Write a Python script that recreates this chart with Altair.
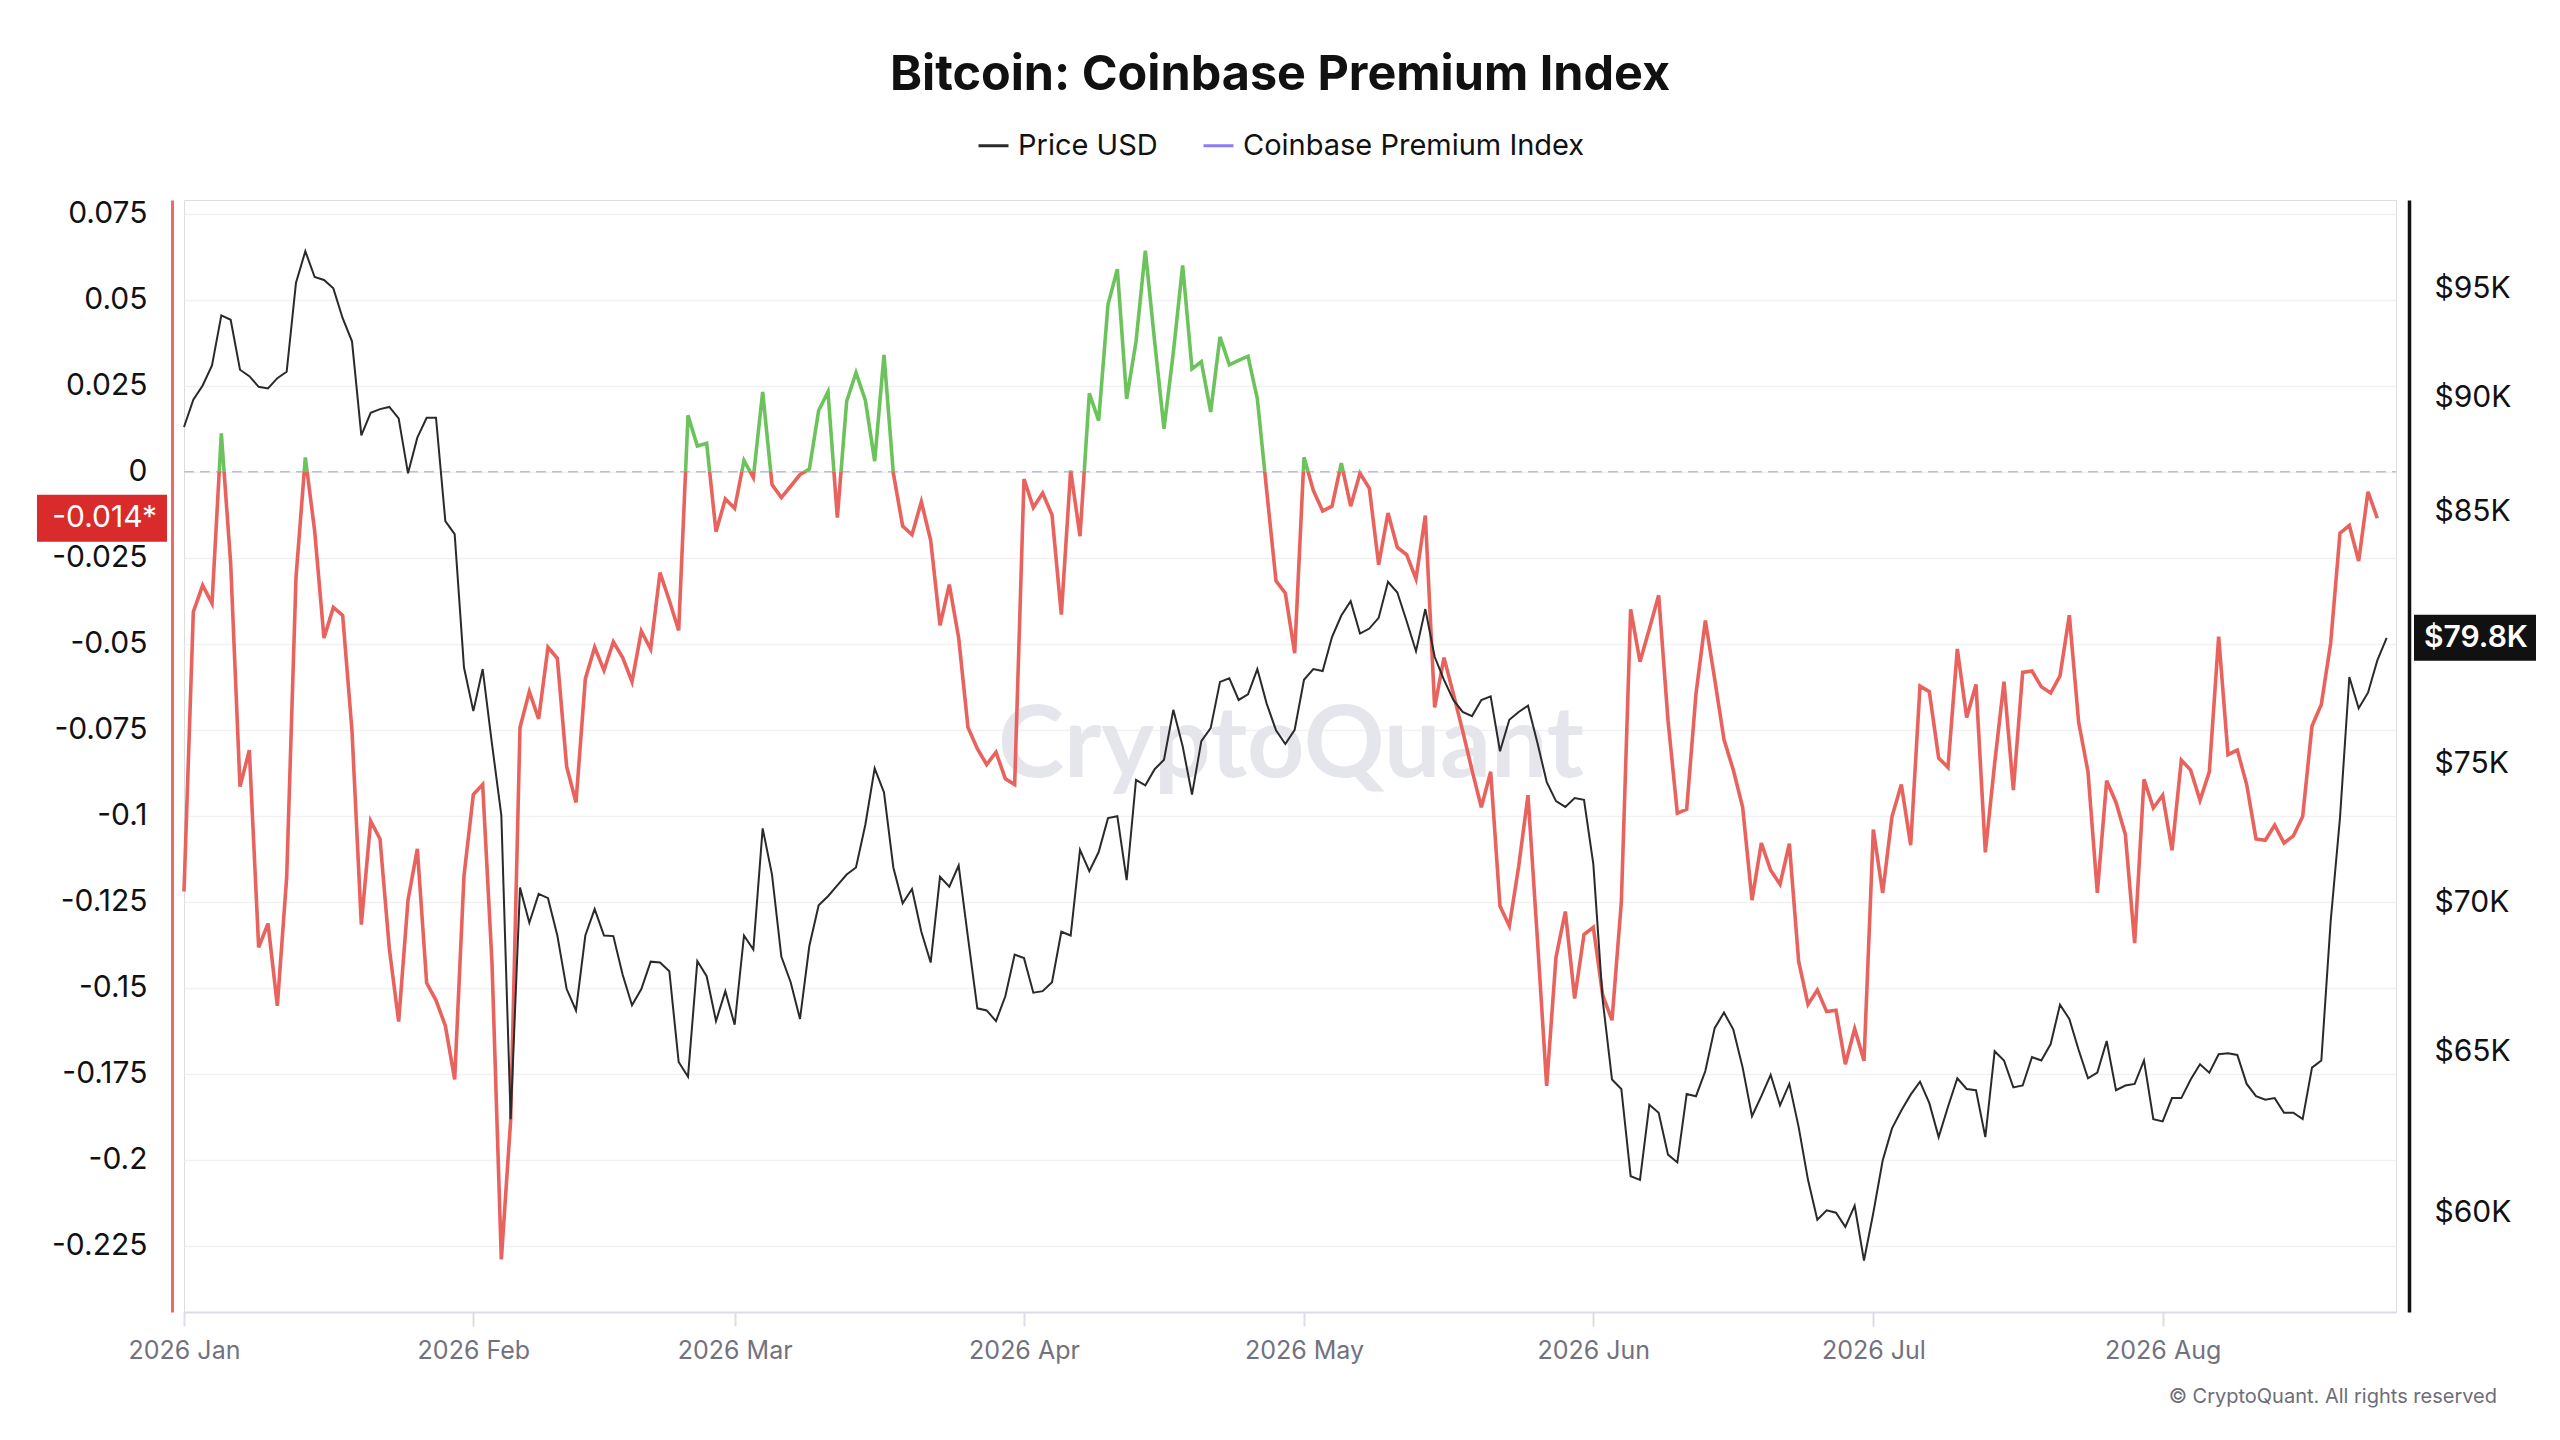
import altair as alt
import pandas as pd

# ---------------- data ----------------
dates = pd.date_range("2026-01-01", periods=237, freq="D").strftime("%Y-%m-%d").tolist()

price_usd = [
    88670, 89880, 90520, 91430, 93730, 93530, 91230, 90940, 90460, 90390,
    90850, 91140, 95270, 96770, 95540, 95400, 95000, 93600, 92530, 88300,
    89300, 89460, 89560, 89050, 86650, 88200, 89080, 89080, 84610, 84070,
    78670, 76980, 78610, 75730, 73090, 62840, 70510, 69290, 70290, 70140,
    68850, 67040, 66330, 68850, 69760, 68850, 68830, 67520, 66500, 67040,
    67960, 67930, 67640, 64650, 64180, 67980, 67470, 65980, 66970, 65860,
    68850, 68370, 72620, 70970, 68130, 67270, 66050, 68490, 69890, 70210,
    70590, 70970, 71220, 72750, 74820, 73930, 71220, 69960, 70460, 68980,
    67930, 70890, 70540, 71290, 68780, 66400, 66330, 65980, 66800, 68200,
    68080, 66920, 66970, 67270, 68980, 68850, 71850, 71090, 71770, 72990,
    73060, 70770, 74390, 74190, 74790, 75140, 77030, 75650, 73850, 75840,
    76330, 78110, 78250, 77410, 77630, 78610, 77270, 76250, 75730, 76270,
    78190, 78610, 78530, 79870, 80730, 81310, 80010, 80210, 80640, 82100,
    81660, 80500, 79310, 80990, 79090, 78190, 77410, 76950, 76790, 77410,
    77550, 75460, 76650, 76950, 77190, 75790, 74320, 73610, 73400, 73720,
    73660, 71340, 66680, 64090, 63790, 61080, 60970, 63290, 63040, 61740,
    61500, 63630, 63560, 64360, 65750, 66260, 65700, 64470, 62930, 63560,
    64240, 63270, 63950, 62590, 60970, 59770, 60050, 59980, 59560, 60190,
    58570, 59980, 61560, 62550, 63110, 63610, 64020, 63340, 62280, 63230,
    64130, 63790, 63750, 62280, 65000, 64700, 63840, 63900, 64810, 64700,
    65230, 66520, 66050, 65040, 64130, 64310, 65330, 63750, 63900, 63950,
    64700, 62840, 62770, 63500, 63500, 64090, 64580, 64310, 64900, 64930,
    64880, 63950, 63560, 63450, 63500, 63040, 63040, 62840, 64470, 64700,
    69340, 73010, 78300, 77090, 77690, 78950, 79840,
]

premium_index = [
    -0.1220, -0.0407, -0.0330, -0.0382, 0.0112, -0.0266, -0.0915, -0.0809, -0.1382, -0.1313,
    -0.1552, -0.1179, -0.0307, 0.0042, -0.0172, -0.0483, -0.0394, -0.0417, -0.0753, -0.1316,
    -0.1015, -0.1067, -0.1386, -0.1598, -0.1245, -0.1096, -0.1486, -0.1536, -0.1610, -0.1766,
    -0.1174, -0.0938, -0.0909, -0.1428, -0.2289, -0.1884, -0.0743, -0.0639, -0.0718, -0.0510,
    -0.0542, -0.0857, -0.0961, -0.0602, -0.0510, -0.0577, -0.0494, -0.0540, -0.0610, -0.0463,
    -0.0515, -0.0293, -0.0374, -0.0461, 0.0164, 0.0075, 0.0083, -0.0174, -0.0079, -0.0106,
    0.0033, -0.0017, 0.0232, -0.0037, -0.0075, -0.0042, -0.0008, 0.0008, 0.0178, 0.0232,
    -0.0133, 0.0205, 0.0288, 0.0208, 0.0031, 0.0340, -0.0004, -0.0158, -0.0183, -0.0087,
    -0.0199, -0.0446, -0.0328, -0.0483, -0.0743, -0.0805, -0.0851, -0.0815, -0.0892, -0.0909,
    -0.0021, -0.0104, -0.0062, -0.0125, -0.0415, 0.0004, -0.0187, 0.0228, 0.0149, 0.0486,
    0.0589, 0.0212, 0.0378, 0.0643, 0.0378, 0.0125, 0.0347, 0.0600, 0.0299, 0.0320,
    0.0174, 0.0392, 0.0311, 0.0324, 0.0336, 0.0212, -0.0054, -0.0317, -0.0353, -0.0527,
    0.0042, -0.0054, -0.0114, -0.0100, 0.0025, -0.0100, -0.0004, -0.0048, -0.0270, -0.0120,
    -0.0220, -0.0241, -0.0311, -0.0127, -0.0685, -0.0540, -0.0645, -0.0753, -0.0867, -0.0975,
    -0.0872, -0.1262, -0.1320, -0.1147, -0.0940, -0.1355, -0.1785, -0.1411, -0.1278, -0.1531,
    -0.1345, -0.1324, -0.1521, -0.1594, -0.1251, -0.0400, -0.0552, -0.0457, -0.0359, -0.0722,
    -0.0992, -0.0981, -0.0645, -0.0432, -0.0602, -0.0778, -0.0867, -0.0975, -0.1245, -0.1079,
    -0.1158, -0.1199, -0.1081, -0.1423, -0.1548, -0.1506, -0.1569, -0.1565, -0.1722, -0.1619,
    -0.1712, -0.1040, -0.1224, -0.1002, -0.0909, -0.1085, -0.0623, -0.0639, -0.0832, -0.0859,
    -0.0515, -0.0714, -0.0618, -0.1106, -0.0847, -0.0610, -0.0925, -0.0583, -0.0579, -0.0625,
    -0.0643, -0.0593, -0.0417, -0.0728, -0.0872, -0.1224, -0.0898, -0.0961, -0.1054, -0.1370,
    -0.0894, -0.0977, -0.0940, -0.1100, -0.0838, -0.0867, -0.0955, -0.0872, -0.0479, -0.0822,
    -0.0809, -0.0909, -0.1067, -0.1071, -0.1027, -0.1079, -0.1058, -0.1002, -0.0739, -0.0676,
    -0.0498, -0.0178, -0.0156, -0.0259, -0.0058, -0.0135,
]

left_ticks = [0.075, 0.05, 0.025, 0, -0.025, -0.05, -0.075, -0.1, -0.125, -0.15, -0.175, -0.2, -0.225]
right_ticks = [60000, 65000, 70000, 75000, 85000, 90000, 95000]
month_starts = ["2026-01-01", "2026-02-01", "2026-03-01", "2026-04-01",
                "2026-05-01", "2026-06-01", "2026-07-01", "2026-08-01"]
series_names = ["Price USD", "Coinbase Premium Index"]
premium_label = "-0.014*"
price_label = "$79.8K"
title_text = "Bitcoin: Coinbase Premium Index"
watermark_text = "CryptoQuant"
copyright_text = "\u00a9 CryptoQuant. All rights reserved"

# ---------------- styling ----------------
RED = "#e8625e"
GREEN = "#6cc35c"
FONT = "Inter"
W, H = 2212, 1112


def ms(d):
    return int(pd.Timestamp(d, tz="UTC").timestamp() * 1000)


x_domain = [ms("2026-01-01"), ms("2026-08-26")]
month_ms = [ms(d) for d in month_starts]

price_df = pd.DataFrame({"date": dates, "price": price_usd, "series": series_names[0]})
prem_df = pd.DataFrame({"date": dates[:len(premium_index)], "premium": premium_index})
zero_df = pd.DataFrame({"premium": [0.0]})
lbox_df = pd.DataFrame({"premium": [premium_index[-1]], "label": [premium_label]})
rbox_df = pd.DataFrame({"price": [price_usd[-1]], "label": [price_label]})
wm_df = pd.DataFrame({"t": [watermark_text]})
cp_df = pd.DataFrame({"t": [copyright_text]})

x_axis = alt.Axis(values=month_ms, labelExpr="utcFormat(datum.value, '%Y %b')",
                  tickSize=14, tickColor="#dcdce6", tickWidth=2,
                  domainColor="#dcdce6", domainWidth=2, labelFontSize=25,
                  labelColor="#72727e", labelPadding=12, grid=False, title=None,
                  labelFlush=False, labelOverlap=False)
X = alt.X("date:T", scale=alt.Scale(type="utc", domain=x_domain), axis=x_axis)

left_scale = alt.Scale(domain=[-0.2442, 0.0790], zero=False, nice=False)
left_axis = alt.Axis(values=left_ticks, labelExpr="'' + datum.value", orient="left",
                     offset=12, domainColor="#ec6a68", domainWidth=3, ticks=False,
                     tickSize=0, labelPadding=25, labelFontSize=30, labelColor="#111111",
                     grid=True, gridColor="#f1f1f4", gridWidth=1.5, title=None,
                     labelOverlap=False)
YL = alt.Y("premium:Q", scale=left_scale, axis=left_axis)

right_scale = alt.Scale(type="log", domain=[57090, 99270], nice=False, zero=False)
right_axis = alt.Axis(values=right_ticks, labelExpr="'$' + (datum.value / 1000) + 'K'",
                      orient="right", offset=13, domainColor="#111111", domainWidth=3.5,
                      ticks=False, tickSize=0, labelPadding=25, labelFontSize=30,
                      labelColor="#111111", grid=False, title=None, labelOverlap=False)
YR = alt.Y("price:Q", scale=right_scale, axis=right_axis)

pmax, pmin = max(premium_index), min(premium_index)
off = pmax / (pmax - pmin)
gradient = alt.Gradient(
    gradient="linear", x1=0, x2=0, y1=0, y2=1,
    stops=[alt.GradientStop(offset=0, color=GREEN), alt.GradientStop(offset=off, color=GREEN),
           alt.GradientStop(offset=off, color=RED), alt.GradientStop(offset=1, color=RED)],
)

# ---------------- left (premium) group ----------------
watermark = alt.Chart(wm_df).mark_text(
    font="Lato", fontSize=100, fontWeight="bold", color="#e5e5ec", align="center",
    baseline="middle").encode(x=alt.value(1107), y=alt.value(547), text="t:N")

zero_rule = alt.Chart(zero_df).mark_rule(
    strokeDash=[10, 6], color="#bebece", strokeWidth=1.6).encode(
    x=alt.value(0), x2=alt.value(W), y=YL)

prem_line = alt.Chart(prem_df).mark_line(stroke=gradient, strokeWidth=3.6).encode(x=X, y=YL)

lbox = alt.Chart(lbox_df).mark_rule(color="#d92b2b", strokeWidth=47).encode(
    x=alt.value(-147), x2=alt.value(-17), y=YL)
ltext = alt.Chart(lbox_df).mark_text(
    font=FONT, fontSize=30, color="white", align="right", baseline="middle").encode(
    x=alt.value(-27), y=YL, text="label:N")

copyright = alt.Chart(cp_df).mark_text(
    font=FONT, fontSize=20, color="#6d6d78", align="right", baseline="middle").encode(
    x=alt.value(2313), y=alt.value(1197), text="t:N")

left = alt.layer(watermark, zero_rule, prem_line, lbox, ltext, copyright)

# ---------------- right (price) group ----------------
price_line = alt.Chart(price_df).mark_line(strokeWidth=2).encode(
    x=X, y=YR,
    color=alt.Color("series:N",
                    scale=alt.Scale(domain=series_names, range=["#2a2a2a", "#8b7cf6"]),
                    legend=alt.Legend(title=None, orient="none", legendX=793, legendY=-71,
                                      direction="horizontal", symbolType="stroke",
                                      symbolSize=900, symbolStrokeWidth=3,
                                      labelFontSize=29, labelFont=FONT, labelColor="#111111",
                                      labelOffset=8, columnPadding=39, padding=0,
                                      labelLimit=1000)))

rbox = alt.Chart(rbox_df).mark_rule(color="#111111", strokeWidth=46).encode(
    x=alt.value(2230), x2=alt.value(2352), y=YR)
rtext = alt.Chart(rbox_df).mark_text(
    font=FONT, fontSize=30, fontWeight=600, color="white", align="left",
    baseline="middle").encode(x=alt.value(2240), y=YR, text="label:N")

right = alt.layer(price_line, rbox, rtext)

chart = alt.layer(left, right).resolve_scale(y="independent").properties(
    width=W, height=H,
    padding={"left": 176, "top": 192, "right": 150, "bottom": 110},
    autosize=alt.AutoSizeParams(type="none"),
    title=alt.Title(title_text, font=FONT, fontSize=48.5, fontWeight="bold", color="#111111",
                    anchor="middle", offset=29, dx=-10),
).configure_view(stroke=None).configure(background="white", font=FONT)

chart.save("out.html", embed_options={"renderer": "svg", "actions": False})
